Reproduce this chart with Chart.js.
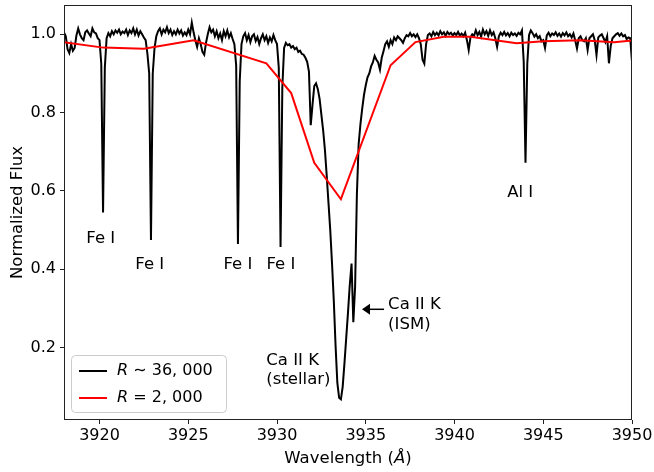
<!DOCTYPE html>
<html>
<head>
<meta charset="utf-8">
<script src="https://cdn.jsdelivr.net/npm/chart.js@4.4.1/dist/chart.umd.min.js"></script>
<style>
  body { margin: 0; background: #fff; }
  #wrap { width: 654px; height: 472px; }
</style>
</head>
<body>
<div id="wrap"><canvas id="spectrum" width="654" height="472"></canvas></div>
<script>
// R~36,000 spectrum, one value every 0.1 A starting at 3918.0 A
const hiStart = 3918.0;
const hiStep = 0.1;
const hiFlux = [
  1.005, 0.995, 0.962, 0.952, 0.975, 0.958, 0.965, 0.997, 1.015, 1.000, // 3918
  0.990, 0.985, 1.005, 1.010, 1.002, 0.995, 1.015, 1.005, 1.002, 0.990, // 3919
  0.985, 0.925, 0.545, 0.915, 0.990, 1.003, 0.995, 1.008, 1.000, 1.010, // 3920
  1.004, 1.012, 1.000, 1.007, 1.003, 1.012, 0.998, 1.010, 1.003, 1.015, // 3921
  1.000, 1.012, 0.997, 1.008, 1.000, 0.992, 0.985, 0.950, 0.900, 0.475, // 3922
  0.900, 0.965, 0.995, 1.008, 1.015, 1.000, 1.012, 1.005, 1.018, 1.003, // 3923
  1.012, 0.998, 1.008, 1.000, 1.012, 1.002, 1.010, 0.997, 1.005, 0.998, // 3924
  1.012, 1.000, 1.030, 1.005, 0.985, 0.968, 0.990, 0.975, 0.955, 0.948, // 3925
  0.978, 1.000, 1.018, 1.005, 1.012, 0.995, 1.008, 0.990, 1.002, 0.985, // 3926
  1.008, 0.995, 1.010, 0.992, 1.003, 0.988, 0.975, 0.920, 0.465, 0.880, // 3927
  0.975, 0.995, 1.003, 0.985, 0.998, 0.980, 0.995, 1.000, 0.983, 0.993, // 3928
  0.975, 0.990, 1.000, 0.985, 0.995, 0.978, 0.992, 0.982, 0.998, 0.985, // 3929
  0.975, 0.915, 0.457, 0.865, 0.965, 0.978, 0.972, 0.975, 0.966, 0.970, // 3930
  0.962, 0.966, 0.955, 0.958, 0.950, 0.948, 0.940, 0.930, 0.905, 0.768, // 3931
  0.820, 0.868, 0.875, 0.860, 0.835, 0.795, 0.755, 0.705, 0.640, 0.570, // 3932
  0.500, 0.415, 0.320, 0.205, 0.110, 0.072, 0.068, 0.100, 0.160, 0.225, // 3933
  0.290, 0.360, 0.415, 0.265, 0.355, 0.590, 0.720, 0.770, 0.810, 0.845, // 3934
  0.870, 0.890, 0.900, 0.918, 0.928, 0.945, 0.935, 0.928, 0.910, 0.940, // 3935
  0.957, 0.975, 0.982, 0.968, 0.985, 0.975, 0.992, 0.985, 0.995, 0.990, // 3936
  0.985, 0.978, 0.990, 0.998, 0.995, 1.003, 0.995, 1.000, 0.993, 1.000, // 3937
  0.990, 0.975, 0.935, 0.925, 0.975, 0.998, 1.002, 0.995, 1.006, 0.998, // 3938
  1.004, 0.997, 1.008, 1.000, 1.005, 0.996, 1.006, 1.000, 1.004, 0.997, // 3939
  1.003, 0.998, 1.006, 0.997, 1.002, 0.995, 1.004, 0.985, 0.960, 0.992, // 3940
  1.000, 0.996, 1.010, 0.998, 1.006, 0.994, 1.012, 1.000, 1.008, 0.996, // 3941
  1.010, 0.998, 1.005, 0.990, 0.968, 0.995, 1.004, 0.998, 1.006, 0.997, // 3942
  1.003, 0.995, 1.004, 0.998, 1.002, 0.996, 1.004, 1.000, 1.010, 0.930, // 3943
  0.672, 0.925, 0.998, 1.010, 1.003, 0.994, 1.000, 0.990, 0.995, 0.982, // 3944
  0.985, 0.965, 0.997, 1.004, 0.995, 1.002, 0.998, 1.005, 0.996, 1.002, // 3945
  0.994, 1.003, 0.997, 1.005, 0.995, 1.000, 0.992, 1.002, 0.985, 0.964, // 3946
  0.990, 0.995, 0.985, 0.982, 0.990, 0.960, 0.990, 0.995, 1.000, 0.985, // 3947
  0.947, 0.992, 0.997, 1.000, 0.990, 0.980, 0.995, 0.926, 0.970, 0.990, // 3948
  0.995, 1.000, 1.003, 0.996, 1.002, 0.995, 0.998, 0.988, 0.992, 0.990, // 3949
  0.930                                                                 // 3950
];

// R=2,000 spectrum
const loWave = [3918.0, 3920.2, 3922.5, 3925.3, 3929.4, 3930.8, 3932.1, 3933.6, 3936.4,
                3937.8, 3939.4, 3940.9, 3943.5, 3945.0, 3947.1, 3949.0, 3950.0];
const loFlux = [0.980, 0.966, 0.963, 0.985, 0.926, 0.850, 0.672, 0.579, 0.921,
                0.980, 0.994, 0.994, 0.977, 0.982, 0.985, 0.980, 0.984];

const waveTicks = [3920, 3925, 3930, 3935, 3940, 3945, 3950];
const fluxTicks = [0.2, 0.4, 0.6, 0.8, 1.0];

// line identifications (wavelength, flux of first text line)
const labels = [
  { text: ['Fe I'], x: 3920.07, y: 0.478, align: 'center' },
  { text: ['Fe I'], x: 3922.83, y: 0.411, align: 'center' },
  { text: ['Fe I'], x: 3927.80, y: 0.411, align: 'center' },
  { text: ['Fe I'], x: 3930.22, y: 0.411, align: 'center' },
  { text: ['Al I'], x: 3943.70, y: 0.595, align: 'center' },
  { text: ['Ca II K', '(stellar)'], x: 3929.40, y: 0.168, align: 'left' },
  { text: ['Ca II K', '(ISM)'], x: 3936.26, y: 0.309, align: 'left' }
];
const arrowFrom = [3936.03, 0.298];
const arrowTo = [3934.79, 0.298];

const FONT = '"DejaVu Sans", sans-serif';

const hiData = hiFlux.map((f, i) => ({ x: hiStart + i * hiStep, y: f }));
const loData = loWave.map((w, i) => ({ x: w, y: loFlux[i] }));

const extras = {
  id: 'extras',
  afterDatasetsDraw(chart) {
    const { ctx, chartArea: a, scales: { x, y } } = chart;
    ctx.save();
    // frame
    ctx.strokeStyle = '#222';
    ctx.lineWidth = 1;
    ctx.strokeRect(a.left + 0.5, a.top + 0.5, a.right - a.left - 1, a.bottom - a.top - 1);

    // annotations
    ctx.fillStyle = '#000';
    ctx.font = '16.5px ' + FONT;
    ctx.textBaseline = 'middle';
    labels.forEach(l => {
      ctx.textAlign = l.align;
      l.text.forEach((t, k) => {
        ctx.fillText(t, x.getPixelForValue(l.x), y.getPixelForValue(l.y) + k * 19.5);
      });
    });

    // arrow to the ISM line
    const x0 = x.getPixelForValue(arrowFrom[0]), y0 = y.getPixelForValue(arrowFrom[1]);
    const x1 = x.getPixelForValue(arrowTo[0]), y1 = y.getPixelForValue(arrowTo[1]);
    ctx.strokeStyle = '#000';
    ctx.lineWidth = 1.5;
    ctx.beginPath();
    ctx.moveTo(x0, y0);
    ctx.lineTo(x1 + 6, y1);
    ctx.stroke();
    ctx.beginPath();
    ctx.moveTo(x1, y1);
    ctx.lineTo(x1 + 8, y1 - 5.5);
    ctx.lineTo(x1 + 8, y1 + 5.5);
    ctx.closePath();
    ctx.fill();

    // legend
    const lx = 71.5, ly = 355.5, lw = 155, lh = 57;
    ctx.fillStyle = 'rgba(255,255,255,0.8)';
    ctx.strokeStyle = '#ccc';
    ctx.lineWidth = 1;
    ctx.beginPath();
    ctx.roundRect(lx, ly, lw, lh, 4);
    ctx.fill();
    ctx.stroke();
    const rows = [
      { color: '#000', rest: ' \u223c 36, 000', y: 371 },
      { color: '#ff0000', rest: ' = 2, 000', y: 398 }
    ];
    rows.forEach(r => {
      ctx.strokeStyle = r.color;
      ctx.lineWidth = 2;
      ctx.beginPath();
      ctx.moveTo(79, r.y);
      ctx.lineTo(107, r.y);
      ctx.stroke();
      ctx.fillStyle = '#000';
      ctx.textAlign = 'left';
      ctx.font = 'italic 16px ' + FONT;
      ctx.fillText('R', 117, r.y);
      const w = ctx.measureText('R').width;
      ctx.font = '16px ' + FONT;
      ctx.fillText(r.rest, 117 + w, r.y);
    });

    // axis titles
    ctx.fillStyle = '#000';
    const pre = 'Wavelength (', post = ')';
    ctx.font = '16.5px ' + FONT;
    const wPre = ctx.measureText(pre).width, wPost = ctx.measureText(post).width;
    ctx.font = 'italic 16.5px ' + FONT;
    const wA = ctx.measureText('\u00c5').width;
    const tx = (a.left + a.right) / 2 - (wPre + wA + wPost) / 2;
    ctx.textAlign = 'left';
    ctx.font = '16.5px ' + FONT;
    ctx.fillText(pre, tx, 459);
    ctx.font = 'italic 16.5px ' + FONT;
    ctx.fillText('\u00c5', tx + wPre, 459);
    ctx.font = '16.5px ' + FONT;
    ctx.fillText(post, tx + wPre + wA, 459);

    ctx.translate(18, (a.top + a.bottom) / 2);
    ctx.rotate(-Math.PI / 2);
    ctx.textAlign = 'center';
    ctx.fillText('Normalized Flux', 0, 0);
    ctx.restore();
  }
};

new Chart(document.getElementById('spectrum'), {
  type: 'line',
  data: {
    datasets: [
      { label: 'R ~ 36,000', data: hiData, borderColor: '#000', borderWidth: 2, order: 1 },
      { label: 'R = 2,000', data: loData, borderColor: '#ff0000', borderWidth: 2, order: 0 }
    ]
  },
  options: {
    responsive: false,
    animation: false,
    devicePixelRatio: 1,
    parsing: false,
    elements: { point: { radius: 0 }, line: { tension: 0 } },
    layout: { padding: { left: 0, right: 22, top: 5, bottom: 0 } },
    plugins: { legend: { display: false }, tooltip: { enabled: false } },
    scales: {
      x: {
        type: 'linear',
        min: 3918,
        max: 3950,
        afterFit: s => { s.height = 52; s.paddingLeft = 0; s.paddingRight = 0; },
        afterBuildTicks: s => { s.ticks = waveTicks.map(v => ({ value: v })); },
        grid: { drawOnChartArea: false, color: '#222', tickLength: 4 },
        border: { display: false },
        ticks: { color: '#000', font: { family: FONT, size: 16 }, padding: 2, maxRotation: 0,
                 callback: v => String(v) }
      },
      y: {
        min: 0.0154,
        max: 1.0748,
        afterFit: s => { s.width = 64; s.paddingTop = 0; s.paddingBottom = 0; },
        afterBuildTicks: s => { s.ticks = fluxTicks.map(v => ({ value: v })); },
        grid: { drawOnChartArea: false, color: '#222', tickLength: 4 },
        border: { display: false },
        ticks: { color: '#000', font: { family: FONT, size: 16 }, padding: 4,
                 callback: v => v.toFixed(1) }
      }
    }
  },
  plugins: [extras]
});
</script>
</body>
</html>
